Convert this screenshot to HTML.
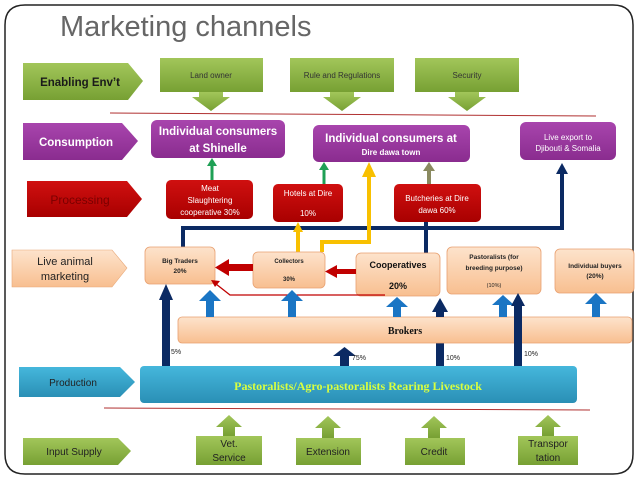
<!DOCTYPE html>
<html><head><meta charset="utf-8"><style>
html,body{margin:0;padding:0;background:#fff;}
svg{display:block;font-family:"Liberation Sans",sans-serif;}
</style></head><body>
<svg width="638" height="479" viewBox="0 0 638 479" xmlns="http://www.w3.org/2000/svg">
<defs>
<linearGradient id="gr" x1="0" y1="0" x2="0" y2="1"><stop offset="0" stop-color="#a2c65a"/><stop offset="1" stop-color="#77a033"/></linearGradient>
<linearGradient id="pu" x1="0" y1="0" x2="0" y2="1"><stop offset="0" stop-color="#a845ad"/><stop offset="1" stop-color="#8a2c8f"/></linearGradient>
<linearGradient id="rd" x1="0" y1="0" x2="0" y2="1"><stop offset="0" stop-color="#d01010"/><stop offset="1" stop-color="#a80000"/></linearGradient>
<linearGradient id="pe" x1="0" y1="0" x2="0" y2="1"><stop offset="0" stop-color="#fde3cc"/><stop offset="1" stop-color="#f8bf90"/></linearGradient>
<linearGradient id="bl" x1="0" y1="0" x2="0" y2="1"><stop offset="0" stop-color="#45b7dc"/><stop offset="1" stop-color="#2a8fb5"/></linearGradient>
</defs>
<path d="M25 5 H613 Q633 5 633 25 V454 Q633 474 613 474 H25 Q5 474 5 454 V25 Q5 5 25 5 Z" fill="none" stroke="#222" stroke-width="1.5"/>
<text x="60" y="36" font-size="29" fill="#666">Marketing channels</text>

<path d="M23 63 H128 L143 81 L128 100 H23 Z" fill="url(#gr)"/>
<text x="80" y="86" font-size="11.5" font-weight="bold" fill="#1a1a1a" text-anchor="middle">Enabling Env’t</text>
<g fill="url(#gr)">
<rect x="160" y="58" width="103" height="34"/><path d="M199 92 H223 V97 H230 L211 111 L192 97 H199 Z"/>
<rect x="290" y="58" width="104" height="34"/><path d="M330 92 H354 V97 H361 L342 111 L323 97 H330 Z"/>
<rect x="415" y="58" width="104" height="34"/><path d="M455 92 H479 V97 H486 L467 111 L448 97 H455 Z"/>
</g>
<text x="211" y="78" font-size="8" fill="#333" text-anchor="middle">Land owner</text>
<text x="342" y="78" font-size="8" fill="#333" text-anchor="middle">Rule and Regulations</text>
<text x="467" y="78" font-size="8" fill="#333" text-anchor="middle">Security</text>
<line x1="110" y1="113" x2="596" y2="116" stroke="#b03030" stroke-width="1"/>

<path d="M23 123 H122 L138 141 L122 160 H23 Z" fill="url(#pu)"/>
<text x="76" y="146" font-size="11.5" font-weight="bold" fill="#fff" text-anchor="middle">Consumption</text>
<rect x="151" y="120" width="134" height="38" rx="6" fill="url(#pu)"/>
<text x="218" y="135" font-size="11.5" font-weight="bold" fill="#fff" text-anchor="middle">Individual consumers</text>
<text x="218" y="152" font-size="11.5" font-weight="bold" fill="#fff" text-anchor="middle">at Shinelle</text>
<rect x="313" y="125" width="157" height="37" rx="6" fill="url(#pu)"/>
<text x="391" y="142" font-size="11.5" font-weight="bold" fill="#fff" text-anchor="middle">Individual consumers at</text>
<text x="391" y="155" font-size="8" font-weight="bold" fill="#fff" text-anchor="middle">Dire dawa town</text>
<rect x="520" y="122" width="96" height="38" rx="6" fill="url(#pu)"/>
<text x="568" y="140" font-size="8" fill="#fff" text-anchor="middle">Live export to</text>
<text x="568" y="151" font-size="8" fill="#fff" text-anchor="middle">Djibouti &amp; Somalia</text>

<path d="M27 181 H127 L142 199 L127 217 H27 Z" fill="url(#rd)"/>
<text x="80" y="204" font-size="12" fill="#7a0000" text-anchor="middle">Processing</text>
<rect x="166" y="180" width="87" height="39" rx="5" fill="url(#rd)"/>
<text x="210" y="191" font-size="8" fill="#fff" text-anchor="middle">Meat</text>
<text x="210" y="203" font-size="8" fill="#fff" text-anchor="middle">Slaughtering</text>
<text x="210" y="215" font-size="8" fill="#fff" text-anchor="middle">cooperative 30%</text>
<rect x="273" y="184" width="70" height="38" rx="5" fill="url(#rd)"/>
<text x="308" y="196" font-size="8" fill="#fff" text-anchor="middle">Hotels at Dire</text>
<text x="308" y="216" font-size="8" fill="#fff" text-anchor="middle">10%</text>
<rect x="394" y="184" width="87" height="38" rx="5" fill="url(#rd)"/>
<text x="437" y="201" font-size="8" fill="#fff" text-anchor="middle">Butcheries at Dire</text>
<text x="437" y="213" font-size="8" fill="#fff" text-anchor="middle">dawa  60%</text>

<line x1="212" y1="165" x2="212" y2="180" stroke="#1fa055" stroke-width="3"/><path d="M207 166 L212 158 L217 166 Z" fill="#1fa055"/>
<line x1="324" y1="169" x2="324" y2="184" stroke="#1fa055" stroke-width="3"/><path d="M319 170 L324 162 L329 170 Z" fill="#1fa055"/>
<line x1="429" y1="170" x2="429" y2="184" stroke="#8a8a60" stroke-width="4"/><path d="M423 171 L429 162 L435 171 Z" fill="#8a8a60"/>

<g stroke="#0b2a63" stroke-width="4" fill="none">
<path d="M183 248 V228 H562 V172"/>
<line x1="426" y1="222" x2="426" y2="254"/>
</g>
<path d="M556 174 L562 163 L568 174 Z" fill="#0b2a63"/>

<g stroke="#f8c000" stroke-width="4" fill="none">
<line x1="298" y1="252" x2="298" y2="230"/>
<path d="M322 252 V242 H369 V175"/>
</g>
<path d="M293 232 L298 222 L303 232 Z" fill="#f8c000"/>
<path d="M362 177 L369 162 L376 177 Z" fill="#f8c000"/>

<path d="M12 250 H112 L127 268 L112 287 H12 Z" fill="url(#pe)" stroke="#e8a878" stroke-width="0.6"/>
<text x="65" y="265" font-size="11" fill="#222" text-anchor="middle">Live animal</text>
<text x="65" y="280" font-size="11" fill="#222" text-anchor="middle">marketing</text>
<g fill="url(#pe)" stroke="#e8a070" stroke-width="0.8">
<rect x="145" y="247" width="70" height="37" rx="5"/>
<rect x="253" y="252" width="72" height="36" rx="5"/>
<rect x="356" y="253" width="84" height="43" rx="5"/>
<rect x="447" y="247" width="94" height="47" rx="5"/>
<rect x="555" y="249" width="79" height="44" rx="5"/>
</g>
<text x="180" y="263" font-size="6.5" font-weight="bold" fill="#222" text-anchor="middle">Big Traders</text>
<text x="180" y="273" font-size="6.5" font-weight="bold" fill="#222" text-anchor="middle">20%</text>
<text x="289" y="263" font-size="6" font-weight="bold" fill="#222" text-anchor="middle">Collectors</text>
<text x="289" y="281" font-size="6" font-weight="bold" fill="#222" text-anchor="middle">30%</text>
<text x="398" y="268" font-size="9" font-weight="bold" fill="#111" text-anchor="middle">Cooperatives</text>
<text x="398" y="289" font-size="9" font-weight="bold" fill="#111" text-anchor="middle">20%</text>
<text x="494" y="259" font-size="6.5" font-weight="bold" fill="#222" text-anchor="middle">Pastoralists (for</text>
<text x="494" y="270" font-size="6.5" font-weight="bold" fill="#222" text-anchor="middle">breeding purpose)</text>
<text x="494" y="287" font-size="5.5" fill="#222" text-anchor="middle">(10%)</text>
<text x="595" y="268" font-size="6.5" font-weight="bold" fill="#222" text-anchor="middle">Individual buyers</text>
<text x="595" y="278" font-size="6.5" font-weight="bold" fill="#222" text-anchor="middle">(20%)</text>

<rect x="228" y="264" width="25" height="7" fill="#c00000"/><path d="M229 259 L215 267.5 L229 276 Z" fill="#c00000"/>
<rect x="335" y="269" width="21" height="5" fill="#c00000"/><path d="M337 265 L325 271.5 L337 278 Z" fill="#c00000"/>
<path d="M385 295 H230 L216 284" fill="none" stroke="#c00000" stroke-width="1.3"/>
<path d="M211 280 L220 281 L215 287 Z" fill="#c00000"/>

<line x1="440" y1="366" x2="440" y2="310" stroke="#0b2a63" stroke-width="8"/>
<rect x="178" y="317" width="454" height="26" rx="4" fill="url(#pe)" stroke="#e8a070" stroke-width="0.8"/>
<path d="M432 312 L440 298 L448 312 Z" fill="#0b2a63"/>
<rect x="436" y="311" width="8" height="6" fill="#0b2a63"/>
<text x="405" y="334" font-size="10" font-weight="bold" fill="#111" text-anchor="middle" font-family="Liberation Serif,serif">Brokers</text>

<g fill="#1a75c4">
<rect x="206" y="300" width="8" height="17"/><path d="M199 301 L210 290 L221 301 Z"/>
<rect x="288" y="300" width="8" height="17"/><path d="M281 301 L292 290 L303 301 Z"/>
<rect x="393" y="306" width="8" height="11"/><path d="M386 307 L397 297 L408 307 Z"/>
<rect x="499" y="304" width="8" height="13"/><path d="M492 305 L503 295 L514 305 Z"/>
<rect x="592" y="303" width="8" height="14"/><path d="M585 304 L596 293 L607 304 Z"/>
</g>

<g fill="#0b2a63">
<rect x="162" y="298" width="8" height="68"/><path d="M159 300 L166 284 L173 300 Z"/>
<rect x="340" y="355" width="9" height="11"/><path d="M333 356 L344.5 347 L356 356 Z"/>
<rect x="514" y="305" width="8" height="61"/><path d="M511 306 L518 293 L525 306 Z"/>
</g>
<text x="171" y="354" font-size="7" fill="#222">5%</text>
<text x="352" y="360" font-size="7" fill="#222">75%</text>
<text x="446" y="360" font-size="7" fill="#222">10%</text>
<text x="524" y="356" font-size="7" fill="#222">10%</text>

<path d="M19 367 H120 L135 382 L120 397 H19 Z" fill="url(#bl)"/>
<text x="73" y="386" font-size="10" fill="#222" text-anchor="middle">Production</text>
<rect x="140" y="366" width="437" height="37" rx="4" fill="url(#bl)"/>
<text x="358" y="390" font-size="12" font-weight="bold" fill="#d8ff40" text-anchor="middle" font-family="Liberation Serif,serif">Pastoralists/Agro-pastoralists Rearing Livestock</text>
<line x1="104" y1="408" x2="590" y2="410" stroke="#b03030" stroke-width="1"/>

<path d="M23 438 H118 L131 451 L118 465 H23 Z" fill="url(#gr)"/>
<text x="74" y="455" font-size="10" fill="#222" text-anchor="middle">Input Supply</text>
<g fill="url(#gr)">
<rect x="196" y="436" width="66" height="29"/><path d="M223 436 V427 H216 L229 415 L242 427 H235 V436 Z"/>
<rect x="296" y="438" width="65" height="27"/><path d="M322 438 V428 H315 L328 416 L341 428 H334 V438 Z"/>
<rect x="405" y="438" width="60" height="27"/><path d="M428 438 V428 H421 L434 416 L447 428 H440 V438 Z"/>
<rect x="518" y="436" width="60" height="29"/><path d="M542 436 V427 H535 L548 415 L561 427 H554 V436 Z"/>
</g>
<text x="229" y="447" font-size="10" fill="#222" text-anchor="middle">Vet.</text>
<text x="229" y="461" font-size="10" fill="#222" text-anchor="middle">Service</text>
<text x="328" y="455" font-size="10" fill="#222" text-anchor="middle">Extension</text>
<text x="434" y="455" font-size="10" fill="#222" text-anchor="middle">Credit</text>
<text x="548" y="447" font-size="10" fill="#222" text-anchor="middle">Transpor</text>
<text x="548" y="461" font-size="10" fill="#222" text-anchor="middle">tation</text>
</svg>
</body></html>
